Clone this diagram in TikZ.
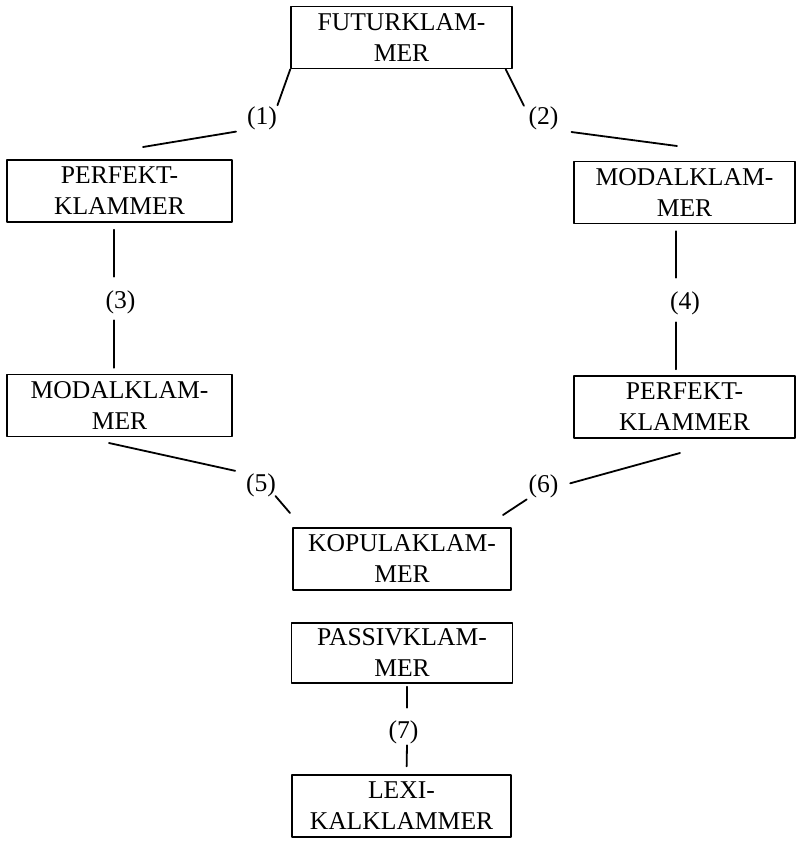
\documentclass[tikz,border=0pt]{standalone}
\usepackage{fontspec}
\setmainfont{Liberation Serif}
\usetikzlibrary{calc}

\begin{document}
\begin{tikzpicture}[line cap=round,line join=round,x=1pt,y=-1pt,
	klammer/.style={draw,line width=1.4pt,minimum width=221pt,minimum height=62pt,
		inner sep=0pt,align=center,font=\fontsize{25.6}{31}\selectfont},
	nr/.style={inner sep=0pt,font=\fontsize{25.6}{31}\selectfont},
	verb/.style={line width=1.8pt}]
	\useasboundingbox (0,0) rectangle (799,841);
	% Klammerboxen
	\node[klammer] (futur) at (401.5,37.5) {FUTURKLAM-\\MER};
	\node[klammer,minimum width=225pt] (perfL) at (119.5,191) {PERFEKT-\\KLAMMER};
	\node[klammer] (modalR) at (684.5,192.5) {MODALKLAM-\\MER};
	\node[klammer,minimum width=225pt] (modalL) at (119.5,405.5) {MODALKLAM-\\MER};
	\node[klammer] (perfR) at (684.5,407) {PERFEKT-\\KLAMMER};
	\node[klammer,minimum width=218pt] (kopula) at (402,559) {KOPULAKLAM-\\MER};
	\node[klammer,minimum height=60pt] (passiv) at (402,653) {PASSIVKLAM-\\MER};
	\node[klammer,minimum width=219pt] (lexi) at (401.5,806) {LEXI-\\KALKLAMMER};
	% Nummern
	\node[nr] (n1) at (262,118) {(1)};
	\node[nr] (n2) at (543.5,118.5) {(2)};
	\node[nr] (n3) at (120.5,302) {(3)};
	\node[nr] (n4) at (685,303) {(4)};
	\node[nr] (n5) at (261,485) {(5)};
	\node[nr] (n6) at (543.5,486.5) {(6)};
	\node[nr] (n7) at (403.5,732.5) {(7)};
	% freie Enden
	\coordinate (e1) at (143,147);
	\coordinate (e2) at (677,146);
	\coordinate (s5) at (109,443);
	\coordinate (e5) at (290,513);
	\coordinate (s6) at (680,453);
	\coordinate (e6) at (503,515);
	% Verbindungen
	\draw[verb,shorten >=1pt] (futur.south west) -- (n1.north east);
	\draw[verb,shorten <=11pt] (n1.south west) -- (e1);
	\draw[verb,shorten >=1pt] ([xshift=-7pt]futur.south east) -- ([xshift=-4pt]n2.north west);
	\draw[verb,shorten <=13pt] (n2.south east) -- (e2);
	\draw[verb,shorten <=7pt,shorten >=13.5pt] ([xshift=-5.5pt]perfL.south) -- ([xshift=-6.5pt]n3.north);
	\draw[verb,shorten <=6.5pt,shorten >=6pt] ([xshift=-6.5pt]n3.south) -- ([xshift=-5.5pt]modalL.north);
	\draw[verb,shorten <=7pt,shorten >=13.5pt] ([xshift=-8.5pt]modalR.south) -- ([xshift=-9pt]n4.north);
	\draw[verb,shorten <=7.5pt,shorten >=6pt] ([xshift=-9pt]n4.south) -- ([xshift=-8.5pt]perfR.north);
	\draw[verb,shorten >=11pt] (s5) -- (n5.north west);
	\draw[verb,shorten <=-1pt] (n5.south east) -- (e5);
	\draw[verb,shorten >=12pt] (s6) -- (n6.east);
	\draw[verb,shorten <=2pt] (n6.south west) -- (e6);
	\draw[verb,shorten <=3pt,shorten >=13pt] ([xshift=5pt]passiv.south) -- ([xshift=3.5pt]n7.north);
	\draw[verb,shorten <=1pt,shorten >=8pt] ([xshift=3.5pt]n7.south) -- ([xshift=5pt]lexi.north);
\end{tikzpicture}
\end{document}
